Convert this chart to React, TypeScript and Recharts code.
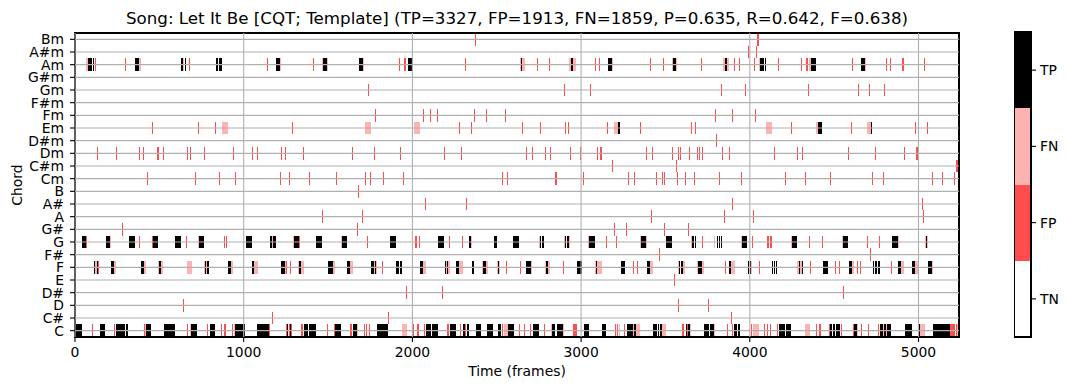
import React from 'react';
import {
  ComposedChart,
  Label,
  ReferenceArea,
  ReferenceLine,
  XAxis,
  YAxis,
} from 'recharts';

type Segment = [string, number, number];
type Blip = [string, number];

const chords = [
  'C', 'C#', 'D', 'D#', 'E', 'F', 'F#', 'G', 'G#', 'A', 'A#', 'B',
  'Cm', 'C#m', 'Dm', 'D#m', 'Em', 'Fm', 'F#m', 'Gm', 'G#m', 'Am', 'A#m', 'Bm',
];
const frameCount = 5240;
const frameTicks = [0, 1000, 2000, 3000, 4000, 5000];
const chartTitle =
  'Song: Let It Be [CQT; Template] (TP=3327, FP=1913, FN=1859, P=0.635, R=0.642, F=0.638)';
const outcomeLabels = ['TN', 'FP', 'FN', 'TP'];

// true positives: [chord, first frame, last frame]
const tpSegments: Segment[] = [
  ['C', 0, 40], ['C', 146, 180], ['C', 241, 247], ['C', 251, 277], ['C', 281, 296], ['C', 304, 316],
  ['C', 421, 453], ['C', 526, 591], ['C', 690, 704], ['C', 708, 724], ['C', 799, 830], ['C', 951, 1008],
  ['C', 1081, 1150], ['C', 1257, 1265], ['C', 1273, 1279], ['C', 1356, 1384], ['C', 1388, 1403],
  ['C', 1407, 1429], ['C', 1543, 1575], ['C', 1646, 1674], ['C', 1790, 1824], ['C', 1826, 1856],
  ['C', 2079, 2111], ['C', 2115, 2150], ['C', 2223, 2259], ['C', 2299, 2312], ['C', 2322, 2338],
  ['C', 2376, 2409], ['C', 2445, 2475], ['C', 2510, 2526], ['C', 2565, 2601], ['C', 2713, 2749],
  ['C', 2830, 2844], ['C', 2856, 2893], ['C', 3016, 3045], ['C', 3123, 3148], ['C', 3273, 3309],
  ['C', 3316, 3324], ['C', 3425, 3447], ['C', 3453, 3461], ['C', 3467, 3478], ['C', 3619, 3627],
  ['C', 3635, 3645], ['C', 3728, 3759], ['C', 3765, 3785], ['C', 3909, 3925], ['C', 3929, 3943],
  ['C', 4174, 4209], ['C', 4213, 4243], ['C', 4476, 4488], ['C', 4494, 4506], ['C', 4510, 4520],
  ['C', 4524, 4536], ['C', 4619, 4635], ['C', 4773, 4787], ['C', 4795, 4805], ['C', 4813, 4835],
  ['C', 4921, 4959], ['C', 5002, 5008], ['C', 5087, 5143], ['C', 5147, 5186],
  ['F', 111, 120], ['F', 128, 138], ['F', 215, 233], ['F', 389, 407], ['F', 496, 510], ['F', 769, 779],
  ['F', 785, 797], ['F', 905, 927], ['F', 1052, 1064], ['F', 1222, 1243], ['F', 1328, 1340],
  ['F', 1502, 1531], ['F', 1613, 1631], ['F', 1755, 1771], ['F', 1779, 1787], ['F', 1903, 1921],
  ['F', 1929, 1939], ['F', 2045, 2065], ['F', 2192, 2200], ['F', 2204, 2210], ['F', 2259, 2275],
  ['F', 2354, 2366], ['F', 2419, 2439], ['F', 2510, 2516], ['F', 2676, 2701], ['F', 2792, 2806],
  ['F', 2974, 3008], ['F', 3089, 3095], ['F', 3236, 3259], ['F', 3389, 3407], ['F', 3583, 3589],
  ['F', 3595, 3605], ['F', 3692, 3714], ['F', 3874, 3890], ['F', 3988, 3996], ['F', 4000, 4010],
  ['F', 4134, 4140], ['F', 4144, 4150], ['F', 4154, 4164], ['F', 4291, 4298], ['F', 4310, 4318],
  ['F', 4435, 4465], ['F', 4587, 4603], ['F', 4731, 4739], ['F', 4743, 4753], ['F', 4759, 4769],
  ['F', 4880, 4898], ['F', 4959, 4979], ['F', 5058, 5081],
  ['G', 40, 67], ['G', 182, 208], ['G', 318, 354], ['G', 463, 490], ['G', 591, 627], ['G', 735, 763],
  ['G', 1012, 1048], ['G', 1155, 1166], ['G', 1172, 1190], ['G', 1299, 1327], ['G', 1429, 1464],
  ['G', 1581, 1612], ['G', 1868, 1903], ['G', 2152, 2176], ['G', 2178, 2188], ['G', 2336, 2346],
  ['G', 2484, 2502], ['G', 2599, 2631], ['G', 2755, 2765], ['G', 2769, 2779], ['G', 2905, 2913],
  ['G', 2917, 2929], ['G', 3049, 3081], ['G', 3354, 3384], ['G', 3502, 3538], ['G', 3658, 3668],
  ['G', 3674, 3684], ['G', 3803, 3811], ['G', 3815, 3822], ['G', 3829, 3837], ['G', 3953, 3982],
  ['G', 4251, 4281], ['G', 4552, 4583], ['G', 4844, 4880], ['G', 5042, 5052],
  ['Em', 3221, 3229], ['Em', 4403, 4425], ['Em', 4718, 4724],
  ['Am', 75, 99], ['Am', 105, 111], ['Am', 354, 377], ['Am', 627, 643], ['Am', 650, 660],
  ['Am', 834, 850], ['Am', 856, 870], ['Am', 1190, 1214], ['Am', 1470, 1494], ['Am', 1684, 1700],
  ['Am', 1703, 1709], ['Am', 1972, 2006], ['Am', 2642, 2650], ['Am', 2939, 2951], ['Am', 3158, 3186],
  ['Am', 3542, 3548], ['Am', 3552, 3560], ['Am', 3854, 3866], ['Am', 4063, 4085], ['Am', 4089, 4095],
  ['Am', 4364, 4394], ['Am', 4660, 4684],
];

// false negatives (reference chord missed)
const fnSegments: Segment[] = [
  ['C', 277, 281], ['C', 417, 421], ['C', 684, 690], ['C', 941, 949], ['C', 1674, 1680],
  ['C', 1941, 1970], ['C', 2545, 2565], ['C', 2822, 2830], ['C', 2893, 2899], ['C', 3226, 3232],
  ['C', 3309, 3316], ['C', 3324, 3349], ['C', 3478, 3502], ['C', 3645, 3652], ['C', 3785, 3795],
  ['C', 4016, 4055], ['C', 4328, 4358], ['C', 4635, 4641], ['C', 4787, 4795], ['C', 4805, 4813],
  ['C', 5008, 5038], ['C', 5228, 5232],
  ['F', 120, 128], ['F', 211, 215], ['F', 233, 245], ['F', 407, 419], ['F', 490, 496], ['F', 510, 524],
  ['F', 662, 692], ['F', 763, 769], ['F', 779, 785], ['F', 927, 939], ['F', 1064, 1083],
  ['F', 1243, 1253], ['F', 1324, 1328], ['F', 1340, 1358], ['F', 1531, 1539], ['F', 1631, 1649],
  ['F', 1771, 1779], ['F', 1787, 1792], ['F', 2065, 2081], ['F', 2200, 2204], ['F', 2210, 2223],
  ['F', 2275, 2300], ['F', 2411, 2419], ['F', 2439, 2449], ['F', 2502, 2510], ['F', 2516, 2522],
  ['F', 2701, 2711], ['F', 2785, 2792], ['F', 2806, 2818], ['F', 3083, 3089], ['F', 3095, 3123],
  ['F', 3407, 3425], ['F', 3573, 3583], ['F', 3605, 3615], ['F', 3688, 3692], ['F', 3714, 3728],
  ['F', 3890, 3912], ['F', 4010, 4014], ['F', 4281, 4291], ['F', 4298, 4308], ['F', 4603, 4619],
  ['F', 4898, 4915], ['F', 4979, 4998], ['F', 5081, 5085],
  ['G', 208, 213], ['G', 728, 735], ['G', 1166, 1172], ['G', 1293, 1299], ['G', 1575, 1581],
  ['G', 2346, 2352], ['G', 2628, 2634], ['G', 2749, 2755], ['G', 2899, 2905], ['G', 2929, 2935],
  ['G', 3043, 3049], ['G', 3348, 3354], ['G', 3384, 3390], ['G', 3652, 3658], ['G', 3787, 3795],
  ['G', 3947, 3953], ['G', 4245, 4251], ['G', 4544, 4552], ['G', 4880, 4886], ['G', 5038, 5042],
  ['G', 5052, 5058],
  ['Em', 870, 905], ['Em', 1719, 1755], ['Em', 2010, 2045], ['Em', 3194, 3221], ['Em', 4097, 4132],
  ['Em', 4395, 4403], ['Em', 4696, 4718],
  ['Am', 67, 75], ['Am', 377, 389], ['Am', 643, 648], ['Am', 1214, 1220], ['Am', 1466, 1470],
  ['Am', 1494, 1500], ['Am', 1709, 1715], ['Am', 2636, 2642], ['Am', 2650, 2670], ['Am', 2931, 2939],
  ['Am', 2951, 2972], ['Am', 3186, 3192], ['Am', 3538, 3542], ['Am', 3560, 3571], ['Am', 3840, 3854],
  ['Am', 3866, 3878], ['Am', 4057, 4063], ['Am', 4350, 4362], ['Am', 4684, 4690],
];

// longer false positive runs
const fpSegments: Segment[] = [
  ['C', 886, 898], ['C', 1340, 1350], ['C', 1632, 1642], ['C', 2028, 2038], ['C', 2206, 2217],
  ['C', 2660, 2670], ['C', 2951, 2974], ['C', 3601, 3611], ['C', 4411, 4423], ['C', 5186, 5214],
  ['C', 5220, 5228], ['C', 5232, 5240],
  ['F', 138, 143], ['F', 1253, 1259],
  ['G', 67, 73], ['G', 1327, 1332], ['G', 2016, 2026], ['G', 4103, 4115], ['G', 4121, 4130],
  ['Dm', 128, 138], ['Dm', 241, 251], ['Dm', 2784, 2794], ['Dm', 2814, 2824], ['Dm', 3093, 3103],
  ['Dm', 3111, 3121], ['Dm', 4988, 4998],
  ['Cm', 2846, 2856], ['Cm', 4788, 4797],
  ['Em', 2648, 2658], ['Em', 2757, 2765],
  ['C#m', 5222, 5240],
  ['Am', 1951, 1962], ['Am', 4334, 4346], ['Am', 4904, 4913],
  ['Bm', 4043, 4053],
];

// short false positive blips: [chord, centre frame]
const fpBlips: Blip[] = [
  ['C', 102], ['C', 236], ['C', 414], ['C', 669], ['C', 784], ['C', 871], ['C', 931], ['C', 1153],
  ['C', 1253], ['C', 1269], ['C', 1285], ['C', 1497], ['C', 1539], ['C', 1714], ['C', 1730],
  ['C', 1746], ['C', 2009], ['C', 2072], ['C', 2288], ['C', 2317], ['C', 2532], ['C', 2635],
  ['C', 2702], ['C', 2782], ['C', 3203], ['C', 3215], ['C', 3260], ['C', 3630], ['C', 3867],
  ['C', 3900], ['C', 4011], ['C', 4088], ['C', 4106], ['C', 4120], ['C', 4163], ['C', 4397],
  ['C', 4470], ['C', 4541], ['C', 4614], ['C', 4663], ['C', 4703], ['C', 4762],
  ['C#', 1168], ['C#', 1858], ['C#', 3890],
  ['D', 646], ['D', 3575], ['D', 3753],
  ['D#', 1964], ['D#', 2178], ['D#', 4556],
  ['E', 3552],
  ['F', 1279], ['F', 1822], ['F', 2557], ['F', 2638], ['F', 2893], ['F', 3308], ['F', 3332],
  ['F', 3854], ['F', 4057], ['F', 4358], ['F', 4506], ['F', 4532], ['F', 4639], ['F', 4655],
  ['F', 4840],
  ['F#', 3463], ['F#', 4716],
  ['G', 385], ['G', 457], ['G', 658], ['G', 884], ['G', 900], ['G', 1733], ['G', 2042], ['G', 2219],
  ['G', 2297], ['G', 3148], ['G', 3208], ['G', 3718], ['G', 4016], ['G', 4354], ['G', 4431],
  ['G', 4698], ['G', 4769],
  ['G#', 279], ['G#', 1674], ['G#', 3196], ['G#', 3267], ['G#', 3492], ['G#', 3635],
  ['A', 1466], ['A', 1703], ['A', 3415], ['A', 3848], ['A', 4020], ['A', 5030],
  ['A#', 2077], ['A#', 2320], ['A#', 3896], ['A#', 5024],
  ['B', 1680],
  ['Cm', 427], ['Cm', 712], ['Cm', 854], ['Cm', 949], ['Cm', 1216], ['Cm', 1269], ['Cm', 1389],
  ['Cm', 1549], ['Cm', 1721], ['Cm', 1751], ['Cm', 1828], ['Cm', 1947], ['Cm', 2534], ['Cm', 2563],
  ['Cm', 3012], ['Cm', 3279], ['Cm', 3314], ['Cm', 3445], ['Cm', 3480], ['Cm', 3496], ['Cm', 3569],
  ['Cm', 3617], ['Cm', 3670], ['Cm', 3818], ['Cm', 3951], ['Cm', 4212], ['Cm', 4330], ['Cm', 4478],
  ['Cm', 4728], ['Cm', 5083], ['Cm', 5143], ['Cm', 5214],
  ['C#m', 3188], ['C#m', 3563],
  ['Dm', 380], ['Dm', 407], ['Dm', 492], ['Dm', 522], ['Dm', 664], ['Dm', 682], ['Dm', 765],
  ['Dm', 937], ['Dm', 1050], ['Dm', 1079], ['Dm', 1222], ['Dm', 1245], ['Dm', 1354], ['Dm', 1644],
  ['Dm', 1775], ['Dm', 1929], ['Dm', 2190], ['Dm', 2291], ['Dm', 2674], ['Dm', 2709], ['Dm', 2935],
  ['Dm', 2994], ['Dm', 3386], ['Dm', 3421], ['Dm', 3540], ['Dm', 3579], ['Dm', 3591], ['Dm', 3643],
  ['Dm', 3688], ['Dm', 3700], ['Dm', 3718], ['Dm', 3838], ['Dm', 3878], ['Dm', 4146], ['Dm', 4283],
  ['Dm', 4310], ['Dm', 4585], ['Dm', 4745], ['Dm', 4917],
  ['D#m', 3801],
  ['Em', 457], ['Em', 730], ['Em', 830], ['Em', 1288], ['Em', 2279], ['Em', 2350], ['Em', 2905],
  ['Em', 2923], ['Em', 3154], ['Em', 3350], ['Em', 3652], ['Em', 3676], ['Em', 4247], ['Em', 4603],
  ['Em', 4983], ['Em', 5054],
  ['Fm', 1781], ['Fm', 2065], ['Fm', 2107], ['Fm', 2148], ['Fm', 2368], ['Fm', 2439], ['Fm', 2552],
  ['Fm', 3795], ['Fm', 3899], ['Fm', 4034],
  ['Gm', 1739], ['Gm', 2899], ['Gm', 3053], ['Gm', 3830], ['Gm', 3972], ['Gm', 4348], ['Gm', 4645],
  ['Gm', 4710], ['Gm', 4799],
  ['Am', 123], ['Am', 302], ['Am', 676], ['Am', 1139], ['Am', 1413], ['Am', 1923], ['Am', 2314],
  ['Am', 2739], ['Am', 2810], ['Am', 3083], ['Am', 3109], ['Am', 3409], ['Am', 3486], ['Am', 3712],
  ['Am', 3911], ['Am', 3939], ['Am', 4028], ['Am', 4170], ['Am', 4304], ['Am', 4609], ['Am', 4811],
  ['Am', 4834], ['Am', 5036],
  ['A#m', 3992], ['A#m', 4040],
  ['Bm', 2372],
];

const BLIP_HALF = 3;
const COLORS: Record<string, string> = { TN: '#ffffff', FP: '#ff4c4c', FN: '#ffb2b2', TP: '#000000' };
const FONT = "'DejaVu Sans', sans-serif";
const GRID = '#b0b0b0';

const cells = (segments: Segment[], color: string, prefix: string) =>
  segments.map(([chord, start, end], i) => {
    const row = chords.indexOf(chord);
    return (
      <ReferenceArea
        key={`${prefix}-${i}`}
        x1={start}
        x2={end}
        y1={row - 0.5}
        y2={row + 0.5}
        fill={color}
        fillOpacity={1}
        stroke="none"
        ifOverflow="hidden"
      />
    );
  });

export default function App() {
  const blips: Segment[] = fpBlips.map(([chord, f]) => [chord, f - BLIP_HALF, f + BLIP_HALF]);
  const tickStyle = { fontSize: 13.9, fill: '#000', fontFamily: FONT };
  const tickLine = { stroke: '#000', strokeWidth: 1.1 };

  return (
    <div style={{ position: 'absolute', left: 0, top: 0, width: 1068, height: 390, background: '#fff', fontFamily: FONT }}>
      <style>{'.recharts-reference-area-rect{shape-rendering:crispEdges}'}</style>
      <div style={{ position: 'absolute', left: 0, top: 0 }}>
        <ComposedChart width={1068} height={390} data={[]} margin={{ top: 33, right: 109, bottom: 0, left: 0 }}>
          <XAxis
            type="number"
            dataKey="frame"
            domain={[0, frameCount]}
            ticks={frameTicks}
            allowDataOverflow
            height={53}
            axisLine={false}
            tickSize={5}
            tickMargin={5}
            tickLine={tickLine}
            tick={tickStyle}
          >
            <Label value="Time (frames)" position="insideBottom" offset={14} style={tickStyle} />
          </XAxis>
          <YAxis
            type="number"
            dataKey="row"
            domain={[-0.5, chords.length - 0.5]}
            ticks={chords.map((_, i) => i)}
            interval={0}
            allowDataOverflow
            width={75}
            axisLine={false}
            tickSize={5}
            tickMargin={6}
            tickLine={tickLine}
            tick={tickStyle}
            tickFormatter={(v: number) => chords[v]}
          />
          {cells(fnSegments, COLORS.FN, 'fn')}
          {cells(fpSegments, COLORS.FP, 'fp')}
          {cells(blips, COLORS.FP, 'blip')}
          {cells(tpSegments, COLORS.TP, 'tp')}
          {chords.map((c, i) => (
            <ReferenceLine key={`h-${c}`} y={i} stroke={GRID} strokeWidth={1.1} />
          ))}
          {frameTicks.map((t) => (
            <ReferenceLine key={`v-${t}`} x={t} stroke={GRID} strokeWidth={1.1} />
          ))}
          <ReferenceArea
            x1={0}
            x2={frameCount}
            y1={-0.5}
            y2={chords.length - 0.5}
            fill="none"
            fillOpacity={0}
            stroke="#000"
            strokeWidth={1.1}
          />
        </ComposedChart>
      </div>

      {/* colorbar: one band per outcome, TN at the bottom */}
      <div style={{ position: 'absolute', left: 1014, top: 0 }}>
        <ComposedChart width={54} height={390} data={[]} margin={{ top: 32, right: 0, bottom: 53, left: 0 }}>
          <XAxis type="number" dataKey="x" domain={[0, 1]} hide allowDataOverflow />
          <YAxis
            yAxisId="minor"
            orientation="right"
            type="number"
            domain={[0, outcomeLabels.length]}
            ticks={outcomeLabels.map((_, k) => k).concat(outcomeLabels.length)}
            allowDataOverflow
            width={0}
            axisLine={false}
            tick={false}
            tickSize={2.5}
            tickLine={tickLine}
          />
          <YAxis
            orientation="right"
            type="number"
            dataKey="y"
            domain={[0, outcomeLabels.length]}
            ticks={outcomeLabels.map((_, k) => k + 0.5)}
            allowDataOverflow
            width={37}
            axisLine={false}
            tickSize={5}
            tickMargin={4}
            tickLine={tickLine}
            tick={tickStyle}
            tickFormatter={(v: number) => outcomeLabels[Math.floor(v)]}
          />
          {outcomeLabels.map((name, k) => (
            <ReferenceArea
              key={name}
              x1={0}
              x2={1}
              y1={k}
              y2={k + 1}
              fill={COLORS[name]}
              fillOpacity={1}
              stroke="none"
            />
          ))}
          <ReferenceArea
            x1={0}
            x2={1}
            y1={0}
            y2={outcomeLabels.length}
            fill="none"
            fillOpacity={0}
            stroke="#000"
            strokeWidth={1.1}
          />
        </ComposedChart>
      </div>

      <svg width={1068} height={390} style={{ position: 'absolute', left: 0, top: 0, pointerEvents: 'none' }}>
        <text x={517} y={24} textAnchor="middle" fontSize={16.7} fontFamily={FONT} fill="#000">
          {chartTitle}
        </text>
        <text x={21.5} y={185} textAnchor="middle" fontSize={13.9} fontFamily={FONT} fill="#000" transform="rotate(-90 21.5 185)">
          Chord
        </text>
      </svg>
    </div>
  );
}
